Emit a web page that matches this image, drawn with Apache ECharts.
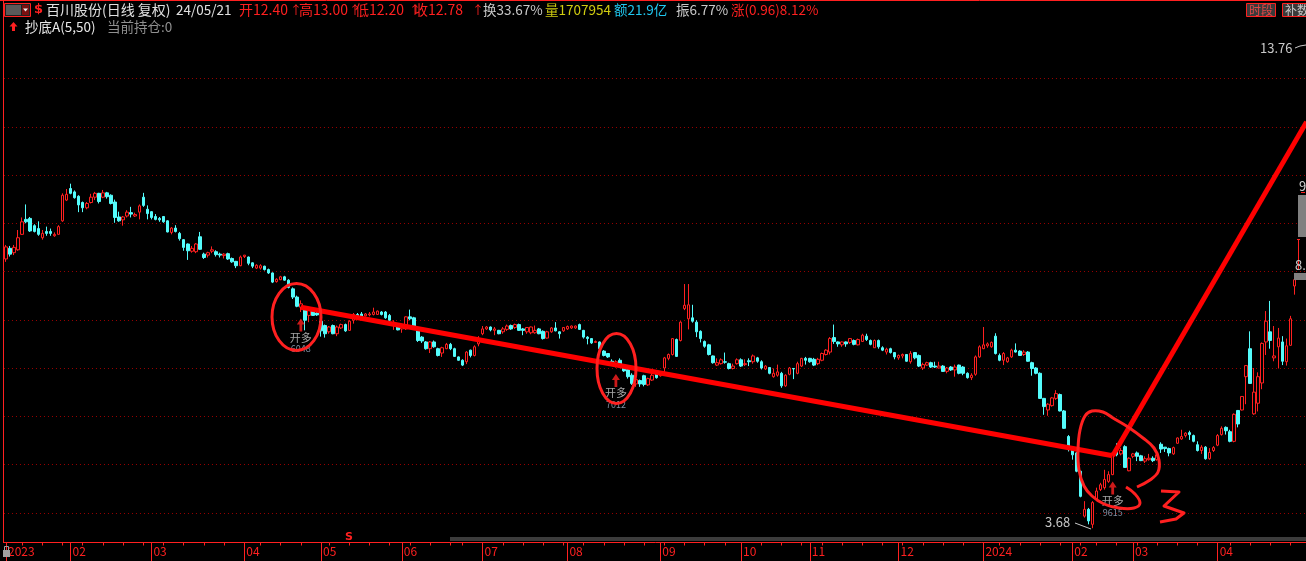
<!DOCTYPE html>
<html><head><meta charset="utf-8">
<script src="https://cdn.jsdelivr.net/npm/echarts@6/dist/echarts.min.js"></script>
<style>html,body{margin:0;padding:0;background:#000;overflow:hidden}#c{width:1306px;height:561px}</style>
</head><body><div id="c"></div>
<script>
// ---- trading calendar (categories) ----
const startDate = '2023-01-03';
const endDate = '2024-05-08';
const holidays = ['2023-01-02','2023-01-23','2023-01-24','2023-01-25','2023-01-26','2023-01-27','2023-04-05',
 '2023-05-01','2023-05-02','2023-05-03','2023-06-22','2023-06-23','2023-09-29','2023-10-02','2023-10-03',
 '2023-10-04','2023-10-05','2023-10-06','2024-01-01','2024-02-09','2024-02-12','2024-02-13','2024-02-14',
 '2024-02-15','2024-02-16','2024-04-04','2024-04-05','2024-05-01','2024-05-02','2024-05-03'];
const monthLabels = ['2023','02','03','04','05','06','07','08','09','10','11','12','2024','02','03','04','05'];

// ---- daily OHLC ----
const opens = [
9.26,9.48,9.39,9.45,9.77,10.08,10.10,9.95,9.89,9.70,
9.83,9.83,9.74,9.77,10.05,10.48,10.72,10.65,10.56,10.43,
10.32,10.43,10.54,10.62,10.54,10.63,10.58,10.44,10.13,10.07,
10.15,10.22,10.15,10.23,10.54,10.29,10.24,10.14,10.10,10.14,
10.05,9.81,9.90,9.79,9.66,9.57,9.42,9.41,9.72,9.36,
9.34,9.42,9.41,9.36,9.33,9.37,9.27,9.21,9.12,9.31,
9.30,9.18,9.07,9.07,9.11,9.04,8.97,8.79,8.83,8.89,
8.82,8.64,8.47,8.26,8.23,8.09,8.19,8.14,7.97,7.88,
7.75,7.88,7.71,7.83,7.90,7.78,7.99,8.11,8.12,8.08,
8.10,8.11,8.11,8.16,8.16,8.09,7.88,7.92,7.81,7.81,
8.06,8.04,7.81,7.64,7.54,7.40,7.54,7.40,7.31,7.40,
7.49,7.40,7.23,7.16,7.13,7.37,7.26,7.50,7.71,7.81,
7.85,7.78,7.78,7.75,7.80,7.88,7.84,7.90,7.81,7.75,
7.73,7.73,7.81,7.76,7.62,7.75,7.83,7.75,7.77,7.81,
7.83,7.83,7.90,7.78,7.64,7.61,7.53,7.54,7.35,7.30,
7.14,7.04,7.16,7.06,6.97,6.85,6.67,6.74,6.84,6.65,
6.75,6.92,6.84,7.00,7.20,7.28,7.59,7.57,8.23,8.02,
8.04,7.95,7.76,7.55,7.48,7.25,7.06,7.09,7.13,7.09,
6.99,7.09,7.17,7.07,7.15,7.13,7.21,7.13,6.98,7.01,
6.82,6.85,6.89,6.63,6.87,6.99,6.89,7.04,7.20,7.20,
7.18,7.09,7.16,7.28,7.33,7.63,7.54,7.48,7.54,7.53,
7.57,7.48,7.55,7.66,7.57,7.42,7.57,7.42,7.33,7.40,
7.32,7.21,7.25,7.28,7.13,7.32,7.26,7.00,7.06,7.11,
7.04,7.00,7.04,6.93,7.02,6.96,7.06,7.02,6.89,6.80,
6.87,7.23,7.40,7.46,7.44,7.66,7.26,7.16,7.13,7.23,
7.37,7.35,7.28,7.33,7.11,7.00,6.89,6.37,6.13,6.22,
6.37,6.45,6.11,5.58,5.31,5.24,4.86,3.93,4.07,3.76,
4.27,4.48,4.52,4.65,4.79,5.31,5.22,5.37,4.87,5.17,
5.24,5.18,5.07,5.10,5.13,5.10,5.42,5.36,5.33,5.22,
5.44,5.53,5.60,5.66,5.60,5.41,5.29,5.36,5.12,5.29,
5.40,5.62,5.77,5.68,5.48,6.12,6.13,6.82,7.40,6.05,
6.27,6.69,7.54,7.75,7.21,7.44,7.54,7.13,7.47,8.70];
const closes = [
9.51,9.36,9.50,9.70,10.03,10.03,9.84,9.83,9.77,9.79,
9.79,9.79,9.77,9.93,10.58,10.60,10.62,10.53,10.38,10.32,
10.41,10.54,10.62,10.45,10.63,10.55,10.41,10.12,10.05,10.13,
10.23,10.19,10.18,10.36,10.37,10.20,10.12,10.08,10.07,10.03,
9.82,9.90,9.83,9.68,9.50,9.43,9.48,9.57,9.46,9.29,
9.39,9.45,9.35,9.34,9.36,9.26,9.20,9.12,9.30,9.34,
9.17,9.11,9.13,9.12,9.04,8.97,8.78,8.84,8.89,8.82,
8.67,8.47,8.28,8.33,7.99,8.21,8.09,8.10,7.77,7.71,
7.85,7.71,7.85,7.90,7.77,7.97,8.11,8.06,8.07,8.12,
8.12,8.16,8.18,8.11,8.04,7.99,7.95,7.79,7.85,8.06,
8.02,7.85,7.57,7.56,7.40,7.54,7.44,7.26,7.42,7.49,
7.40,7.24,7.16,7.06,7.33,7.26,7.44,7.61,7.81,7.85,
7.79,7.81,7.71,7.81,7.87,7.81,7.90,7.78,7.78,7.84,
7.85,7.78,7.71,7.61,7.75,7.83,7.77,7.71,7.84,7.86,
7.87,7.87,7.80,7.64,7.61,7.52,7.55,7.40,7.26,7.23,
7.09,7.13,7.06,6.94,6.82,6.68,6.76,6.67,6.66,6.78,
6.85,6.80,6.90,7.21,7.28,7.61,7.24,7.95,8.30,8.31,
7.97,7.75,7.61,7.45,7.28,7.11,7.11,7.17,7.12,6.99,
7.04,7.17,7.04,7.09,7.13,7.25,7.14,7.00,7.04,6.89,
6.89,6.92,6.63,6.85,7.00,6.98,7.09,7.20,7.16,7.13,
7.06,7.18,7.30,7.37,7.61,7.55,7.50,7.54,7.50,7.61,
7.49,7.59,7.68,7.59,7.49,7.57,7.44,7.37,7.39,7.32,
7.23,7.26,7.28,7.14,7.30,7.21,7.04,7.07,7.11,7.02,
7.02,7.04,6.93,7.00,6.96,7.02,6.89,6.89,6.80,6.85,
7.23,7.44,7.48,7.50,7.53,7.30,7.16,7.30,7.21,7.37,
7.33,7.26,7.33,7.14,6.99,6.89,6.37,6.20,6.25,6.38,
6.47,6.11,5.75,5.31,5.20,4.86,4.34,4.07,3.83,4.21,
4.45,4.58,4.69,4.79,5.24,5.20,5.29,4.94,5.13,5.22,
5.17,5.08,5.12,5.13,5.08,5.20,5.32,5.33,5.24,5.35,
5.55,5.58,5.65,5.62,5.48,5.29,5.36,5.12,5.25,5.35,
5.60,5.75,5.70,5.48,6.04,5.84,6.41,7.05,6.68,6.50,
6.82,7.51,7.97,7.57,7.25,7.62,7.14,7.46,8.02,8.83];
const lows = [
9.20,9.31,9.34,9.43,9.76,10.00,9.82,9.81,9.74,9.66,
9.74,9.74,9.72,9.77,10.03,10.46,10.60,10.51,10.23,10.23,
10.29,10.41,10.48,10.41,10.52,10.51,10.39,10.01,10.03,9.95,
10.12,10.12,10.13,10.08,10.34,10.08,10.08,10.06,10.03,10.01,
9.81,9.77,9.81,9.64,9.43,9.24,9.39,9.38,9.45,9.26,
9.29,9.38,9.31,9.29,9.27,9.24,9.18,9.07,9.11,9.28,
9.13,9.07,9.05,9.04,9.02,8.95,8.76,8.77,8.82,8.81,
8.65,8.43,8.26,8.16,7.78,7.95,8.08,8.08,7.65,7.63,
7.71,7.70,7.66,7.81,7.75,7.77,7.92,8.04,8.06,8.07,
8.07,8.09,8.10,8.09,8.02,7.97,7.79,7.78,7.73,7.79,
7.99,7.83,7.54,7.52,7.38,7.31,7.42,7.24,7.23,7.39,
7.37,7.23,7.15,7.04,7.08,7.22,7.24,7.45,7.68,7.79,
7.76,7.68,7.70,7.71,7.77,7.79,7.81,7.77,7.68,7.71,
7.70,7.71,7.70,7.59,7.61,7.73,7.76,7.61,7.75,7.79,
7.81,7.81,7.79,7.61,7.49,7.50,7.52,7.37,7.24,7.21,
7.06,7.01,7.04,6.92,6.78,6.65,6.61,6.61,6.62,6.63,
6.73,6.78,6.82,6.89,7.16,7.26,7.23,7.55,8.20,7.80,
7.94,7.64,7.53,7.42,7.26,7.09,7.04,7.07,7.09,6.97,
6.97,7.07,7.02,7.04,7.04,7.09,7.11,6.97,6.96,6.87,
6.80,6.82,6.59,6.61,6.85,6.77,6.87,7.02,7.07,7.11,
7.04,7.06,7.14,7.26,7.28,7.50,7.44,7.44,7.44,7.50,
7.47,7.47,7.54,7.56,7.47,7.42,7.40,7.35,7.28,7.30,
7.18,7.17,7.20,7.13,7.09,7.18,7.02,6.96,7.04,7.00,
7.00,6.99,6.92,6.89,6.94,6.82,6.87,6.85,6.78,6.75,
6.84,7.21,7.39,7.42,7.42,7.28,7.14,7.06,7.11,7.21,
7.32,7.25,7.25,7.13,6.84,6.87,6.36,6.03,6.01,6.20,
6.34,6.10,5.74,5.27,5.10,4.84,4.32,3.90,3.76,3.68,
4.24,4.45,4.48,4.62,4.78,5.17,5.19,4.93,4.86,5.13,
5.07,5.07,5.03,5.08,5.05,5.08,5.24,5.26,5.17,5.20,
5.43,5.51,5.56,5.51,5.46,5.27,5.22,5.10,5.10,5.26,
5.38,5.60,5.62,5.46,5.46,5.77,6.12,6.25,6.67,6.03,
6.10,6.56,7.27,7.40,7.14,6.99,7.06,7.05,7.46,8.52];
const highs = [
9.55,9.53,9.55,9.86,10.12,10.39,10.13,9.98,10.04,9.86,
9.93,9.89,9.81,9.96,10.62,10.71,10.82,10.68,10.58,10.45,
10.44,10.61,10.65,10.63,10.69,10.65,10.60,10.49,10.24,10.15,
10.27,10.34,10.22,10.39,10.63,10.37,10.25,10.19,10.13,10.15,
10.06,9.92,9.96,9.82,9.67,9.58,9.53,9.59,9.82,9.39,
9.41,9.52,9.44,9.39,9.38,9.39,9.29,9.22,9.33,9.34,
9.31,9.19,9.15,9.15,9.12,9.06,8.98,8.86,8.91,8.91,
8.84,8.67,8.50,8.40,8.24,8.24,8.21,8.16,7.99,7.90,
7.87,7.90,7.88,7.92,7.92,7.99,8.14,8.14,8.16,8.14,
8.16,8.25,8.19,8.18,8.18,8.12,7.99,7.93,7.88,8.07,
8.21,8.06,7.84,7.66,7.56,7.56,7.57,7.42,7.44,7.52,
7.52,7.42,7.24,7.18,7.35,7.38,7.47,7.66,7.87,7.87,
7.86,7.85,7.79,7.85,7.90,7.90,7.92,7.92,7.83,7.85,
7.86,7.88,7.83,7.78,7.77,7.85,7.95,7.76,7.85,7.88,
7.88,7.88,7.92,7.79,7.66,7.62,7.57,7.55,7.37,7.31,
7.18,7.16,7.20,7.08,6.99,6.89,6.78,6.76,6.86,6.80,
6.90,6.95,6.93,7.23,7.30,7.62,7.61,7.97,8.74,8.74,
8.31,7.99,7.78,7.57,7.50,7.26,7.20,7.20,7.32,7.11,
7.09,7.20,7.20,7.18,7.20,7.28,7.23,7.16,7.06,7.02,
6.99,7.07,6.92,6.87,7.02,7.00,7.13,7.21,7.23,7.21,
7.21,7.21,7.32,7.39,7.64,7.90,7.55,7.55,7.55,7.62,
7.59,7.61,7.71,7.71,7.59,7.59,7.59,7.45,7.42,7.42,
7.33,7.28,7.30,7.29,7.35,7.33,7.28,7.11,7.13,7.13,
7.13,7.13,7.06,7.02,7.04,7.07,7.07,7.04,6.91,6.89,
7.26,7.47,7.85,7.53,7.55,7.72,7.30,7.33,7.23,7.40,
7.51,7.37,7.37,7.35,7.13,7.02,6.91,6.38,6.27,6.40,
6.54,6.47,6.13,5.61,5.34,5.26,4.87,4.24,4.10,4.24,
4.52,4.62,4.89,4.86,5.26,5.44,5.34,5.40,5.15,5.24,
5.27,5.20,5.17,5.22,5.17,5.22,5.46,5.36,5.35,5.37,
5.56,5.72,5.67,5.70,5.62,5.48,5.40,5.38,5.34,5.38,
5.63,5.79,5.79,5.72,6.06,6.13,6.42,7.06,7.76,7.00,
6.91,7.53,8.18,8.39,7.87,7.83,7.66,7.61,8.08,8.83];

// signals (开多) : candle index and the number printed under it
const signalIndex = [73, 151, 274];
const signalNumber = ['6048', '7012', '9615'];
// hand-drawn trend lines : [candle index, price]
const trendA = [[73, 8.26], [274, 5.18]];
const trendB = [[274, 5.18], [322, 12.1]];

// ---------------------------------------------------------
const R = '#FF2020', CY = '#54FCFC';
const FONT = '"Noto Sans CJK SC","DejaVu Sans",sans-serif';

function buildDays() {
  const hs = new Set(holidays), out = [];
  let t = Date.parse(startDate + 'T00:00:00Z'); const e = Date.parse(endDate + 'T00:00:00Z');
  for (; t <= e; t += 86400000) {
    const d = new Date(t), wd = d.getUTCDay(), s = d.toISOString().slice(0, 10);
    if (wd !== 0 && wd !== 6 && !hs.has(s)) out.push(s);
  }
  return out;
}
const days = buildDays();
const monthStart = {}, weekStart = {};
let mi = 0;
days.forEach((d, i) => {
  if (i === 0 || d.slice(0, 7) !== days[i - 1].slice(0, 7)) monthStart[i] = monthLabels[mi++];
  if (i > 0) {
    const a = new Date(days[i - 1] + 'T00:00:00Z'), b = new Date(d + 'T00:00:00Z');
    if (b.getUTCDay() <= a.getUTCDay() || (b - a) > 4 * 86400000) weekStart[i] = true;
  }
});
const ohlc = opens.map((o, i) => [o, closes[i], lows[i], highs[i]]);

const band = 4.039;
const gridLeft = 6 - band / 2;
const gridWidth = band * days.length;

function T(text, x, y, fill, size, extra) {
  return Object.assign({ type: 'text', z: 100, silent: true,
    style: { text, x, y, fill, font: (size || 13) + 'px ' + FONT, textAlign: 'left', textVerticalAlign: 'middle', verticalAlign: 'middle' } }, extra || {});
}
const graphics = [
  // frame
  { type: 'line', z: 100, shape: { x1: 0, y1: 0.5, x2: 1306, y2: 0.5 }, style: { stroke: R, lineWidth: 1 } },
  { type: 'line', z: 100, shape: { x1: 3.5, y1: 0, x2: 3.5, y2: 543 }, style: { stroke: R, lineWidth: 1 } },
  // K button
  { type: 'rect', z: 100, shape: { x: 4.5, y: 3.5, width: 26, height: 13 }, style: { fill: '#202020', stroke: R, lineWidth: 1 } },
  { type: 'rect', z: 101, shape: { x: 6, y: 5, width: 15, height: 10 }, style: { fill: '#5a5a5a' } },
  T('K', 10, 10.5, '#e0e0e0', 11),
  { type: 'rect', z: 101, shape: { x: 22, y: 5, width: 7, height: 10 }, style: { fill: '#7a1010' } },
  { type: 'polygon', z: 102, shape: { points: [[23, 8.5], [28, 8.5], [25.5, 11.5]] }, style: { fill: '#f0f0f0' } },
  { type: 'text', z: 100, style: { text: '$', x: 34, y: 10, fill: R, font: 'bold 13px "DejaVu Sans"', textVerticalAlign: 'middle', verticalAlign: 'middle' } },
  // header row 1
  T('百川股份(日线 复权)', 46, 10, '#E0E0E0', 14),
  T('24/05/21', 176, 10, '#E0E0E0', 13.5),
  T('开12.40', 239, 10, R, 14), T('↑', 290, 10, R, 12),
  T('高13.00', 299, 10, R, 14), T('↑', 349, 10, R, 12),
  T('低12.20', 355, 10, R, 14), T('↑', 409, 10, R, 12),
  T('收12.78', 414, 10, R, 14), T('↑', 472, 10, R, 12),
  T('换33.67%', 483, 10, '#C8C8C8', 13.5),
  T('量1707954', 545, 10, '#D0CC10', 13.5),
  T('额21.9亿', 614, 10, '#20C8F0', 13.5),
  T('振6.77%', 676, 10, '#C8C8C8', 13.5),
  T('涨(0.96)8.12%', 731, 10, R, 13.5),
  // header row 2
  { type: 'polygon', z: 100, shape: { points: [[13.5, 22], [17.5, 26.5], [15, 26.5], [15, 31], [12, 31], [12, 26.5], [9.5, 26.5]] }, style: { fill: R } },
  T('抄底A(5,50)', 25, 27, '#E8E8E8', 13.5),
  T('当前持仓:0', 107, 27, '#909090', 13.5),
  // top-right buttons
  { type: 'rect', z: 100, shape: { x: 1246.5, y: 3.5, width: 29, height: 13 }, style: { fill: '#3a3a3a', stroke: R, lineWidth: 1 } },
  T('时段', 1249, 10, '#E04848', 12),
  { type: 'rect', z: 100, shape: { x: 1282.5, y: 3.5, width: 29, height: 13 }, style: { fill: '#3a3a3a', stroke: R, lineWidth: 1 } },
  T('补数', 1285, 10, '#C8C8C8', 12),
  // extreme price markers
  T('13.76', 1260, 48, '#C8C8C8', 13),
  { type: 'polyline', z: 100, shape: { points: [[1295, 48], [1300, 46], [1306, 45]] }, style: { stroke: '#C8C8C8', lineWidth: 1, fill: 'none' } },
  T('3.68', 1045, 522, '#C8C8C8', 13),
  { type: 'polyline', z: 100, shape: { points: [[1075, 523], [1083, 526], [1091, 529]] }, style: { stroke: '#C8C8C8', lineWidth: 1, fill: 'none' } },
  // cut-off right edge
  T('9', 1299, 186, '#D0D0D0', 13),
  { type: 'line', z: 100, shape: { x1: 1301, y1: 192.5, x2: 1305, y2: 192.5 }, style: { stroke: R, lineWidth: 1 } },
  { type: 'rect', z: 100, shape: { x: 1298, y: 195, width: 8, height: 42 }, style: { fill: '#808080' } },
  { type: 'line', z: 100, shape: { x1: 1298.5, y1: 239, x2: 1298.5, y2: 270 }, style: { stroke: R, lineWidth: 1 } },
  { type: 'line', z: 100, shape: { x1: 1297, y1: 239.5, x2: 1300, y2: 239.5 }, style: { stroke: R, lineWidth: 1 } },
  T('8.', 1295, 265, '#D0D0D0', 13),
  { type: 'rect', z: 100, shape: { x: 1294, y: 273, width: 12, height: 7 }, style: { fill: '#808080' } },
  // bottom bar
  { type: 'rect', z: 99, shape: { x: 450, y: 537, width: 856, height: 4 }, style: { fill: '#3c3c3c' } },
  { type: 'text', z: 100, style: { text: 'S', x: 345, y: 537, fill: R, font: 'bold 11px "DejaVu Sans"', textVerticalAlign: 'middle', verticalAlign: 'middle' } },
  { type: 'rect', z: 101, shape: { x: 3, y: 550, width: 7, height: 7 }, style: { fill: '#a0a0a0' } },
  { type: 'rect', z: 101, shape: { x: 4.5, y: 546.5, width: 4, height: 4 }, style: { fill: 'none', stroke: '#a0a0a0', lineWidth: 1 } },
  // hand-drawn circles / marks
  { type: 'ellipse', z: 100, shape: { cx: 296.5, cy: 317, rx: 24.5, ry: 33.5 }, style: { fill: 'none', stroke: R, lineWidth: 3 } },
  { type: 'ellipse', z: 100, shape: { cx: 616.5, cy: 368.5, rx: 19.5, ry: 35 }, style: { fill: 'none', stroke: R, lineWidth: 3 } },
  { type: 'polyline', z: 100, shape: { smooth: 0.4, points: [[1126, 487], [1135, 494], [1140, 503], [1134, 508], [1119, 508], [1104, 504], [1092, 496], [1084, 486], [1079, 470], [1078, 450], [1080, 430], [1085, 416], [1092, 411], [1103, 412], [1113, 418], [1128, 427], [1143, 438], [1154, 448], [1159, 460], [1158, 472], [1150, 480], [1137, 487]] }, style: { fill: 'none', stroke: R, lineWidth: 3 } },
  { type: 'polyline', z: 100, shape: { points: [[1161, 491], [1179, 492], [1164, 506], [1184, 513], [1176, 519], [1160, 522]] }, style: { fill: 'none', stroke: R, lineWidth: 3, lineJoin: 'round' } }
];

const chart = echarts.init(document.getElementById('c'), null, { renderer: 'canvas' });
chart.setOption({
  backgroundColor: '#000',
  animation: false,
  grid: { left: gridLeft, top: 30.25, width: gridWidth, height: 530.75, containLabel: false, outerBoundsMode: 'none' },
  xAxis: [{
    type: 'category', data: days, boundaryGap: true, position: 'bottom', offset: -18.5,
    axisLine: { show: true, lineStyle: { color: R, width: 1 } },
    axisTick: { show: true, alignWithLabel: true, length: 19, interval: (i) => monthStart[i] !== undefined, lineStyle: { color: R } },
    axisLabel: { show: true, interval: (i) => monthStart[i] !== undefined, formatter: (v, i) => monthStart[i] || '',
      color: R, fontSize: 12, fontFamily: FONT, align: 'left', margin: 3, padding: [0, 0, 0, 2], showMinLabel: true, showMaxLabel: false },
    splitLine: { show: false }
  }, {
    type: 'category', data: days, boundaryGap: true, position: 'bottom', offset: -18.5,
    axisLine: { show: false },
    axisTick: { show: true, alignWithLabel: true, length: 3, interval: (i) => !!weekStart[i] && monthStart[i] === undefined, lineStyle: { color: R } },
    axisLabel: { show: false }, splitLine: { show: false }
  }],
  yAxis: {
    type: 'value', min: 3, max: 14, interval: 1, position: 'right',
    axisLine: { show: false }, axisTick: { show: false }, axisLabel: { show: false },
    splitLine: { show: true, showMaxLine: false, showMinLine: false, lineStyle: { color: '#9a0000', type: [1, 3], width: 1 } }
  },
  series: [{
    type: 'candlestick', xAxisIndex: 0, data: ohlc, barWidth: 3,
    itemStyle: { color: '#000000', color0: CY, borderColor: R, borderColor0: CY, borderWidth: 1 },
    markLine: {
      silent: true, symbol: ['none', 'none'], label: { show: false },
      lineStyle: { color: '#FF0000', width: 5, type: 'solid' },
      emphasis: { disabled: true },
      data: [
        [{ coord: [days[trendA[0][0]], trendA[0][1]] }, { coord: [days[trendA[1][0]], trendA[1][1]] }],
        [{ coord: [days[trendB[0][0]], trendB[0][1]] }, { coord: [days[trendB[1][0]], trendB[1][1]] }]
      ]
    }
  }, {
    type: 'scatter', xAxisIndex: 0, silent: true, z: 5,
    symbol: 'path://M4,0 L8,6 L5.4,6 L5.4,13 L2.6,13 L2.6,6 L0,6 Z',
    symbolSize: [8, 13], symbolOffset: [0, 13],
    itemStyle: { color: R },
    label: { show: true, position: 'bottom', distance: 0,
      rich: { a: { color: '#D0D0D0', fontSize: 11, lineHeight: 12, fontFamily: FONT },
              b: { color: '#9FB0C8', fontSize: 9, lineHeight: 11, fontFamily: FONT } } },
    data: signalIndex.map((k, n) => ({ value: [days[k], lows[k]], label: { formatter: '{a|开多}\n{b|' + signalNumber[n] + '}' } }))
  }],
  graphic: { elements: graphics }
});
</script>
</body></html>
